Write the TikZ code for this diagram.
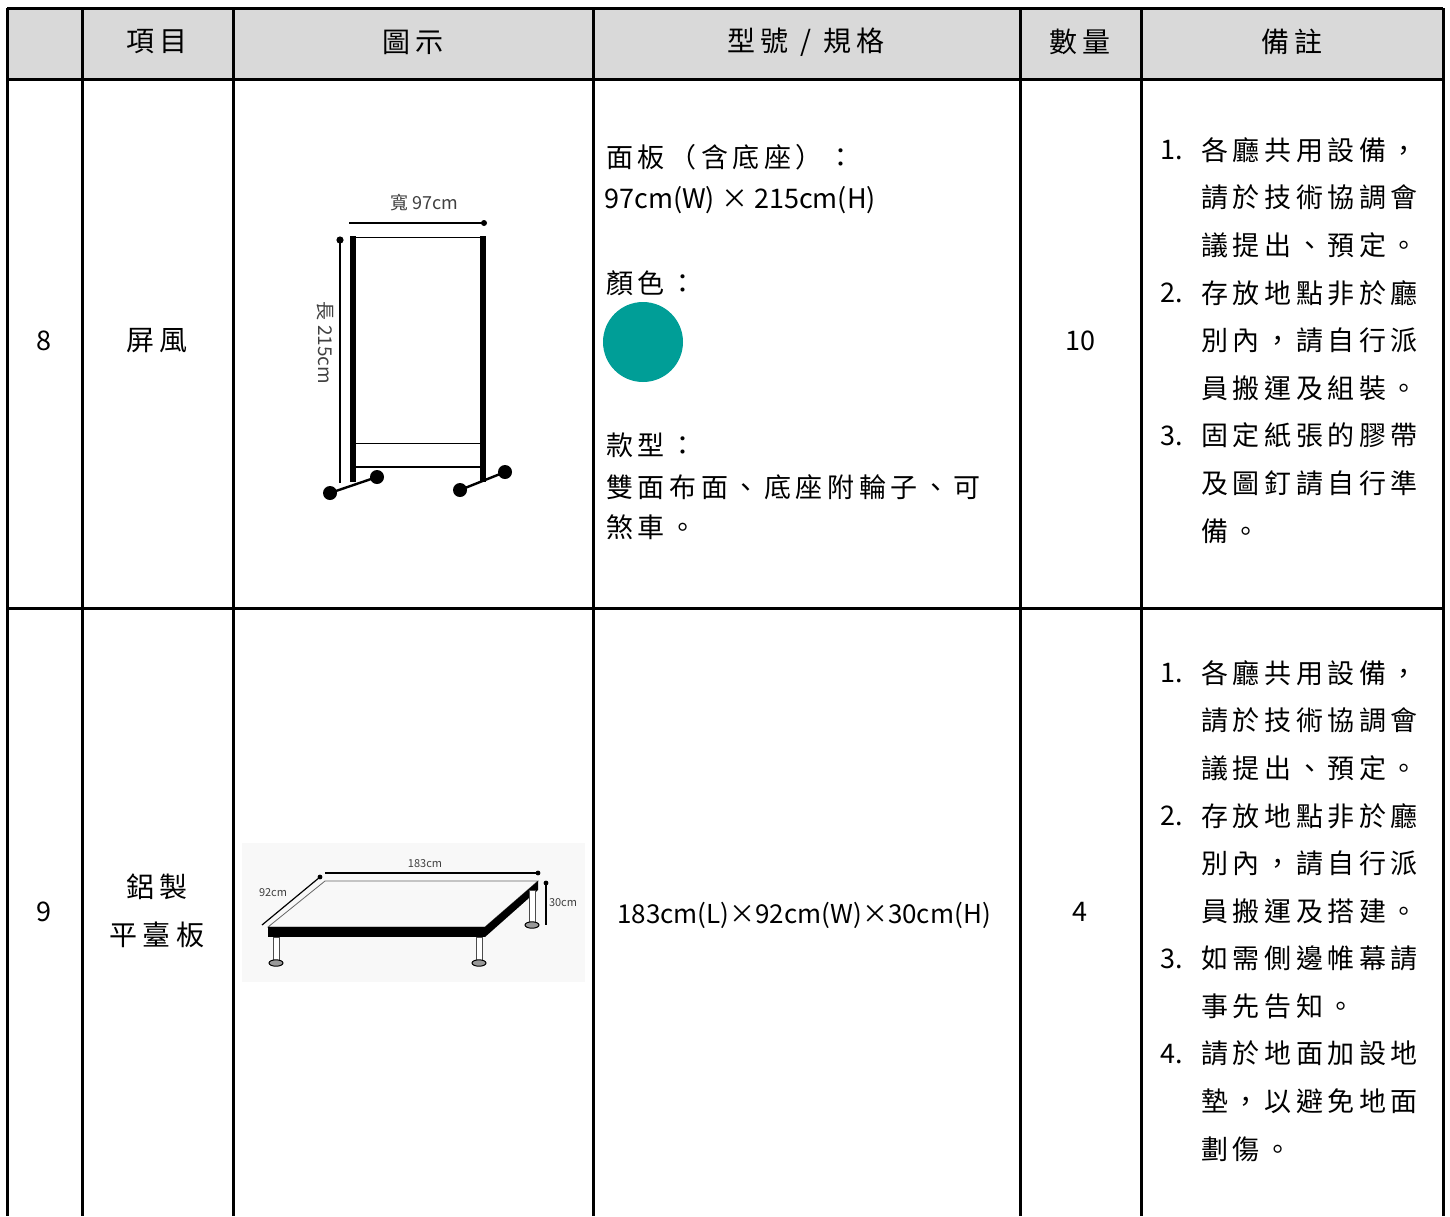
\documentclass[tikz,border=0pt]{standalone}
\usepackage{fontspec}
\setmainfont{Noto Sans CJK TC}
\usepackage{xcolor}
\definecolor{headgray}{HTML}{D9D9D9}
\definecolor{panelteal}{HTML}{009E97}
\definecolor{photogray}{HTML}{F8F8F8}

\begin{document}
\begin{tikzpicture}[x=0.5pt, y=-0.5pt,
    rule/.style={line width=1.5pt},
    head/.style={font=\fontsize{14}{14}\selectfont\addfontfeature{LetterSpace=20}},
    cell/.style={font=\fontsize{13.5}{14}\selectfont},
    note/.style={anchor=west, inner sep=0pt, font=\fontsize{13.5}{14}\selectfont\addfontfeature{LetterSpace=17}},
    plain/.style={anchor=west, inner sep=0pt, font=\fontsize{13.5}{14}\selectfont},
    dim/.style={line width=0.6pt},
    tag/.style={inner sep=0pt, text=black!75}]
    \useasboundingbox (0,0) rectangle (1450,1216);

    % Header band
    \fill[headgray] (7,8) rectangle (1443,79);

    % Table rules
    \draw[rule] (7,8) -- (1443,8);
    \draw[rule] (7,79) -- (1443,79);
    \draw[rule] (7,608) -- (1443,608);
    \foreach \c in {7,82,233,593,1020,1141,1443}
        \draw[rule] (\c,8) -- (\c,1216);

    % Header texts
    \node[head] (hItem) at (157,42) {項目};
    \node[head] (hPic) at (413,42) {圖示};
    \node[head] (hSpec) at (806,42) {型號 / 規格};
    \node[head] (hQty) at (1080,42) {數量};
    \node[head] (hNote) at (1292,42) {備註};

    % Row 8: screen
    \node[cell] (noA) at (44,341) {8};
    \node[head] (nameA) at (157,341) {屏風};
    \node[cell] (qtyA) at (1080,341) {10};

    \node[note] (specA1) at (606,157) {面板（含底座）：};
    \node[plain] (specA2) at (604,200) {97cm(W) × 215cm(H)};
    \node[note] (specA3) at (606,283) {顏色：};
    \fill[panelteal] (643,342) circle (20pt);
    \node[note] (specA4) at (606,445) {款型：};
    \node[note] (specA5) at (606,487) {雙面布面、底座附輪子、可};
    \node[note] (specA6) at (606,527) {煞車。};

    \foreach \k/\y in {1/150, 2/293, 3/436}
        \node[plain] (numA\k) at (1160,\y) {\k.};
    \foreach \t [count=\i] in {各廳共用設備，, 請於技術協調會, 議提出、預定。,
        存放地點非於廳, 別內，請自行派, 員搬運及組裝。,
        固定紙張的膠帶, 及圖釘請自行準, 備。}
        \node[note] (noteA\i) at (1201,{150+47.6*(\i-1)}) {\t};

    % Screen sketch
    \fill (350,236) rectangle (356,482);
    \fill (480,236) rectangle (486,482);
    \draw[line width=0.4pt] (356,237) -- (480,237);
    \draw[line width=0.3pt] (356,443) -- (480,443);
    \draw[line width=0.8pt] (356,467) -- (480,467);
    \draw[line width=1.2pt] (330,493) -- (377,477);
    \draw[line width=1.2pt] (460,490) -- (505,472);
    \foreach \p in {(330,493), (377,477), (460,490), (505,472)}
        \fill \p circle (3.5pt);
    \draw[dim] (349,223) -- (484,223);
    \fill (484,223) circle (1.5pt);
    \draw[dim] (340,240) -- (340,483);
    \fill (340,240) circle (1.8pt);
    \node[tag, font=\fontsize{9}{9}\selectfont] (wA) at (424,203) {寬 97cm};
    \node[tag, font=\fontsize{9.5}{10}\selectfont, rotate=-90] (hA) at (325,343) {長 215cm};

    % Row 9: platform
    \node[cell] (noB) at (44,912) {9};
    \node[head] (nameB1) at (157,887) {鋁製};
    \node[head] (nameB2) at (157,935) {平臺板};
    \node[cell] (qtyB) at (1080,912) {4};
    \node[font=\fontsize{13}{14}\selectfont] (specB) at (804,915) {183cm(L)×92cm(W)×30cm(H)};

    \foreach \k/\y in {1/673, 2/815.8, 3/958.6, 4/1053.8}
        \node[plain] (numB\k) at (1160,\y) {\k.};
    \foreach \t [count=\i] in {各廳共用設備，, 請於技術協調會, 議提出、預定。,
        存放地點非於廳, 別內，請自行派, 員搬運及搭建。,
        如需側邊帷幕請, 事先告知。,
        請於地面加設地, 墊，以避免地面, 劃傷。}
        \node[note] (noteB\i) at (1201,{673+47.6*(\i-1)}) {\t};

    % Platform sketch
    \fill[photogray] (242,843) rectangle (585,982);
    \draw[line width=0.4pt, black!60] (325,881) -- (538,881) -- (485,927) -- (268,927) -- cycle;
    \fill (268,927) rectangle (485,937);
    \fill (485,927) -- (538,881) -- (538,890) -- (485,937) -- cycle;
    \foreach \lx/\ly/\lb in {276/937/960, 479/937/960, 532/890/922}{
        \draw[line width=0.4pt, black!70, fill=white] (\lx-3,\ly) rectangle (\lx+3,\lb);
        \draw[line width=0.5pt, fill=black!40] (\lx,\lb+3) ellipse (3.5pt and 1.6pt);
    }
    \draw[dim] (325,873) -- (538,873);
    \fill (538,873) circle (1.2pt);
    \draw[dim] (262,925) -- (320,877);
    \fill (320,877) circle (1.2pt);
    \draw[dim] (546,883) -- (546,925);
    \fill (546,883) circle (1.2pt);
    \node[tag, font=\fontsize{5.5}{6}\selectfont] (lB) at (425,864) {183cm};
    \node[tag, font=\fontsize{5.5}{6}\selectfont] (dB) at (273,893) {92cm};
    \node[tag, font=\fontsize{5.5}{6}\selectfont] (tB) at (563,903) {30cm};
\end{tikzpicture}
\end{document}
